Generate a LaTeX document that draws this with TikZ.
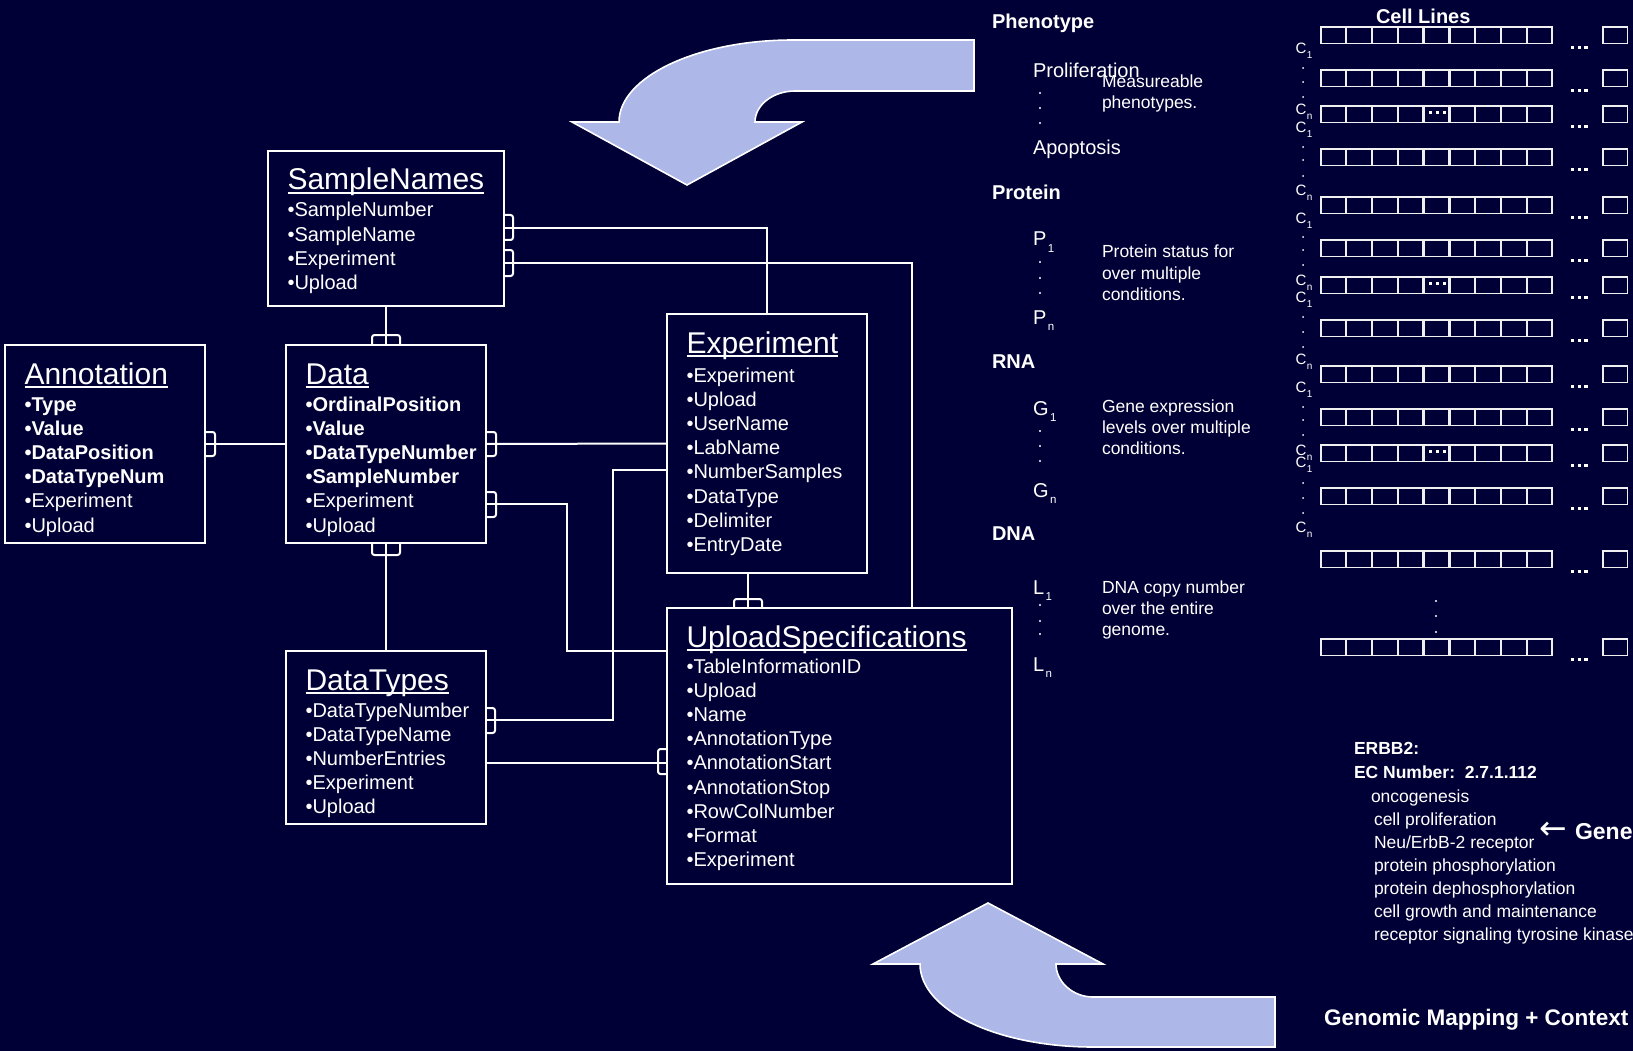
\documentclass[tikz,border=0pt]{standalone}
\usepackage{fontspec}
\setmainfont{Liberation Sans}
\newfontfamily\arrowfont{DejaVu Sans}
\usetikzlibrary{calc}
\definecolor{navy}{RGB}{0,0,54}
\definecolor{lav}{RGB}{173,183,232}
\newcommand{\setfs}[1]{\fontsize{#1}{#1}\selectfont}
\newcommand{\lowsub}[3]{\raisebox{-#2pt}{\setfs{#1}#3}}

\begin{document}
\begin{tikzpicture}[x=1pt,y=-1pt,
  every node/.style={text=white, inner sep=0pt, outer sep=0pt},
  entity/.style={draw=white, line width=2pt, rectangle, anchor=north west},
  link/.style={draw=white, line width=2pt},
  crow/.style={draw=white, line width=2pt, rounded corners=2.5pt},
  uline/.style={draw=white, line width=2.6pt},
  ttl/.style={anchor=base west, font=\setfs{30}},
  itm/.style={anchor=base west, font=\setfs{20}},
  bigarrow/.style={fill=lav, draw=white, line width=1.6pt, line join=miter},
  cell/.style={draw=white!88!gray, line width=1.3pt},
  head/.style={anchor=base west, font=\setfs{20}\bfseries},
  var/.style={anchor=base west, font=\setfs{20}},
  note/.style={anchor=base west, font=\setfs{17.5}},
  clab/.style={anchor=base west, font=\setfs{15}},
  gene/.style={anchor=base west, font=\setfs{17.5}},
]
% canvas
\fill[navy] (0,0) rectangle (1633,1051);
\useasboundingbox (0,0) rectangle (1633,1051);

% curved block arrows
\filldraw[bigarrow] (974,40) -- (793,40) .. controls (697,40) and (619,77) .. (619,122)
  -- (572,122) -- (687,185) -- (802,122) -- (755,122)
  .. controls (755,105) and (773,91) .. (795,91) -- (974,91) -- cycle;
\filldraw[bigarrow] (988,903) -- (1103,964) -- (1056,964)
  .. controls (1056,982) and (1073,997) .. (1093,997) -- (1275,997) -- (1275,1047)
  -- (1093,1047) .. controls (997,1047) and (920,1010) .. (920,964)
  -- (873,964) -- cycle;

% ---------------- tables ----------------
\node[entity, minimum width=236pt, minimum height=155pt] (sn) at (268,151) {};
\node[entity, minimum width=200pt, minimum height=198pt] (ann) at (5,345) {};
\node[entity, minimum width=200pt, minimum height=198pt] (dat) at (286,345) {};
\node[entity, minimum width=200pt, minimum height=259pt] (exp) at (667,314) {};
\node[entity, minimum width=200pt, minimum height=173pt] (dtp) at (286,651) {};
\node[entity, minimum width=345pt, minimum height=276pt] (ups) at (667,608) {};

% titles
\foreach \nm/\ttext in {sn/SampleNames, ann/Annotation, dat/Data, exp/Experiment, dtp/DataTypes, ups/UploadSpecifications}{
  \node[ttl] (\nm-t) at ($(\nm.north west)+(19.5,39)$) {\ttext};
  \draw[uline] ($(\nm-t.base west)+(0,3)$) -- ($(\nm-t.base east)+(0,3)$);
}

% fields
\foreach \ft [count=\i from 0] in {•SampleNumber, •SampleName, •Experiment, •Upload}
  \node[itm] (sn-\i) at ($(sn.north west)+(19.5,66+24.2*\i)$) {\ft};
\foreach \ft [count=\i from 0] in {\textbf{•Type}, \textbf{•Value}, \textbf{•DataPosition}, \textbf{•DataTypeNum}, •Experiment, •Upload}
  \node[itm] (ann-\i) at ($(ann.north west)+(19.5,66+24.2*\i)$) {\ft};
\foreach \ft [count=\i from 0] in {\textbf{•OrdinalPosition}, \textbf{•Value}, \textbf{•DataTypeNumber}, \textbf{•SampleNumber}, •Experiment, •Upload}
  \node[itm] (dat-\i) at ($(dat.north west)+(19.5,66+24.2*\i)$) {\ft};
\foreach \ft [count=\i from 0] in {•Experiment, •Upload, •UserName, •LabName, •NumberSamples, •DataType, •Delimiter, •EntryDate}
  \node[itm] (exp-\i) at ($(exp.north west)+(19.5,68+24.2*\i)$) {\ft};
\foreach \ft [count=\i from 0] in {•DataTypeNumber, •DataTypeName, •NumberEntries, •Experiment, •Upload}
  \node[itm] (dtp-\i) at ($(dtp.north west)+(19.5,66+24.2*\i)$) {\ft};
\foreach \ft [count=\i from 0] in {•TableInformationID, •Upload, •Name, •AnnotationType, •AnnotationStart, •AnnotationStop, •RowColNumber, •Format, •Experiment}
  \node[itm] (ups-\i) at ($(ups.north west)+(19.5,65+24.2*\i)$) {\ft};

% relations
\draw[link] ($(sn.north east)+(0,77)$) -| (exp.north);
\draw[link] ($(sn.north east)+(0,112)$) -| ($(ups.north west)+(245,0)$);
\draw[link] (sn.south) -- (dat.north);
\draw[link] (ann.east) -- (dat.west);
\draw[link] (dat.east) -- (exp.west);
\draw[link] ($(dat.north east)+(0,159)$) -| ($(ups.north west)+(-100,43)$) -- ($(ups.north west)+(0,43)$);
\draw[link] (dat.south) -- (dtp.north);
\draw[link] ($(dtp.north east)+(0,69)$) -| ($(exp.north west)+(-54,156)$) -- ($(exp.north west)+(0,156)$);
\draw[link] ($(dtp.north east)+(0,112)$) -- ($(ups.north west)+(0,155)$);
\draw[link] ($(exp.south west)+(81,0)$) -- ($(ups.north west)+(81,0)$);

% many-side marks
\draw[crow] ($(sn.north east)+(0,64)$) -- ++(9,0) -- ++(0,25) -- ++(-9,0);
\draw[crow] ($(sn.north east)+(0,99)$) -- ++(9,0) -- ++(0,26) -- ++(-9,0);
\draw[crow] ($(dat.north)+(-14,0)$) -- ++(0,-10) -- ++(28,0) -- ++(0,10);
\draw[crow] ($(ann.east)+(0,-12)$) -- ++(10,0) -- ++(0,24) -- ++(-10,0);
\draw[crow] ($(dat.east)+(0,-12)$) -- ++(10,0) -- ++(0,24) -- ++(-10,0);
\draw[crow] ($(dat.north east)+(0,147)$) -- ++(10,0) -- ++(0,25) -- ++(-10,0);
\draw[crow] ($(dat.south)+(-14,0)$) -- ++(0,12) -- ++(28,0) -- ++(0,-12);
\draw[crow] ($(dtp.north east)+(0,57)$) -- ++(9,0) -- ++(0,25) -- ++(-9,0);
\draw[crow] ($(ups.north west)+(0,141)$) -- ++(-9,0) -- ++(0,25) -- ++(9,0);
\draw[crow] ($(ups.north west)+(67,0)$) -- ++(0,-9) -- ++(28,0) -- ++(0,9);

% ---------------- data levels ----------------
\node[head] (phen) at (992,29) {Phenotype};
\node[var] (prolif) at (1033,78) {Proliferation};
\node[var] (apop) at (1033,155) {Apoptosis};
\node[note] (ph1) at (1102,88) {Measureable};
\node[note] (ph2) at (1102,109) {phenotypes.};

\node[head] (prot) at (992,200) {Protein};
\node[var] (p1) at (1033,246) {P\kern1.5pt\lowsub{11.5}{6.5}{1}};
\node[var] (pn) at (1033,324) {P\kern1.5pt\lowsub{11.5}{6.5}{n}};
\node[note] (pr1) at (1102,258) {Protein status for};
\node[note] (pr2) at (1102,279) {over multiple};
\node[note] (pr3) at (1102,300) {conditions.};

\node[head] (rna) at (992,368) {RNA};
\node[var] (g1) at (1033,415) {G\kern1.5pt\lowsub{11.5}{6.5}{1}};
\node[var] (gn) at (1033,497) {G\kern1.5pt\lowsub{11.5}{6.5}{n}};
\node[note] (rn1) at (1102,412) {Gene expression};
\node[note] (rn2) at (1102,433) {levels over multiple};
\node[note] (rn3) at (1102,454) {conditions.};

\node[head] (dna) at (992,540) {DNA};
\node[var] (l1) at (1033,594) {L\kern1.5pt\lowsub{11.5}{6.5}{1}};
\node[var] (ln) at (1033,671) {L\kern1.5pt\lowsub{11.5}{6.5}{n}};
\node[note] (dn1) at (1102,593) {DNA copy number};
\node[note] (dn2) at (1102,614) {over the entire};
\node[note] (dn3) at (1102,635) {genome.};

\foreach \yy in {93,108,123, 262,278,293, 431,446,461, 605,621,634}
  \fill[white] (1040,\yy) circle (1.1);

% ---------------- cell line grid ----------------
\node[head] (cells) at (1376,24) {Cell Lines};
\foreach \r in {27,70,106,149,197,240,277,320,366,409,445,488,551,639}{
  \foreach \k in {0,...,8}
    \draw[cell] (1321+25.8*\k,\r) rectangle ++(24.6,16.5);
  \draw[cell] (1603,\r) rectangle ++(24.5,16.5);
  \foreach \d in {0,1,2}
    \fill[white] (1571.2+6.6*\d,\r+18.8) rectangle ++(3.2,3.2);
}
\foreach \r in {106,277,445}
  \foreach \d in {0,1,2}
    \fill[white] (1428.6+7*\d,\r+5.2) rectangle ++(3,3);
\foreach \yy in {601,616,632}
  \fill[white] (1436,\yy) circle (1.1);

\foreach \yy [count=\i] in {48,127,218,297,387,462}
  \node[clab] (c1-\i) at (1295.5,\yy+5.3) {C\kern0.5pt\lowsub{10}{5}{1}};
\foreach \yy [count=\i] in {109,190,280,359,450,527}
  \node[clab] (cn-\i) at (1295.5,\yy+5.3) {C\kern0.5pt\lowsub{10}{5}{n}};
\foreach \yy in {68,82,97, 147,160,176, 237,250,265, 317,332,347, 407,420,435, 483,498,513}
  \fill[white] (1303,\yy) circle (1);

% ---------------- gene context ----------------
\node[gene, font=\setfs{17.5}\bfseries] (erbb) at (1354,754) {ERBB2:};
\node[gene, font=\setfs{17.5}\bfseries] (ecn) at (1354,778) {EC Number:\ \ 2.7.1.112};
\node[gene] (go0) at (1371,802) {oncogenesis};
\foreach \ft [count=\i] in {cell proliferation, Neu/ErbB-2 receptor, protein phosphorylation, protein dephosphorylation, cell growth and maintenance, receptor signaling tyrosine kinase}
  \node[gene] (go\i) at (1374,802+23*\i) {\ft};
\node[anchor=west, font=\arrowfont\setfs{33}] (garrow) at (1539,831) {←};
\node[anchor=base west, font=\setfs{23}\bfseries] (genelbl) at (1575,839) {Gene};
\node[anchor=base west, font=\setfs{22.5}\bfseries] (gmc) at (1324,1025) {Genomic Mapping + Context};
\end{tikzpicture}
\end{document}
